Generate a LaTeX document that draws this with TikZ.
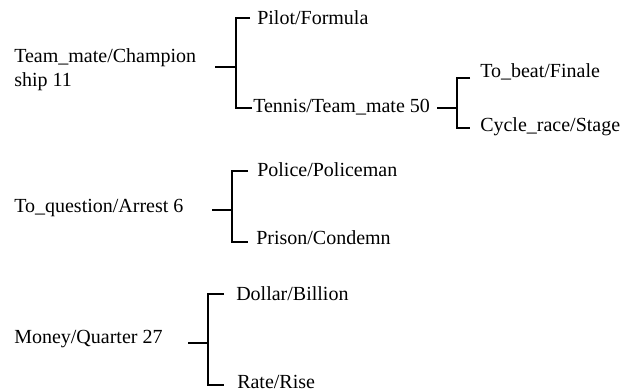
\documentclass[tikz,border=0pt]{standalone}
\usepackage{fontspec}
\setmainfont{Liberation Serif}
\begin{document}
\begin{tikzpicture}[x=0.75pt,y=-0.75pt,
  lbl/.style={anchor=base west,inner sep=0pt,font=\fontsize{15}{18}\selectfont},
  br/.style={line width=1.3pt,line cap=butt}]
\useasboundingbox (0,0) rectangle (632,392);
% group 1
\node[lbl,align=left] (a) at (14,87) {Team\_mate/Champion\\ship 11};
\node[lbl] (a1) at (257,25) {Pilot/Formula};
\node[lbl] (a2) at (253,113) {Tennis/Team\_mate 50};
\node[lbl] (b1) at (480,78) {To\_beat/Finale};
\node[lbl] (b2) at (480,132) {Cycle\_race/Stage};
\coordinate (a-out) at (215,67);
\coordinate (a-j) at (236,67);
\coordinate (a-t) at (236,18);
\coordinate (a-b) at (236,108);
\coordinate (a1-in) at (250,18);
\coordinate (a2-in) at (252,108);
\draw[br] (a-out) -- (a-j);
\draw[br] (a1-in) -- (a-t) -- (a-b) -- (a2-in);
\coordinate (b-out) at (437,108);
\coordinate (b-j) at (457,108);
\coordinate (b-t) at (457,78);
\coordinate (b-b) at (457,128);
\coordinate (b1-in) at (470,78);
\coordinate (b2-in) at (470,128);
\draw[br] (b-out) -- (b-j);
\draw[br] (b1-in) -- (b-t) -- (b-b) -- (b2-in);
% group 2
\node[lbl] (c) at (14,213) {To\_question/Arrest 6};
\node[lbl] (c1) at (257,177) {Police/Policeman};
\node[lbl] (c2) at (256,244) {Prison/Condemn};
\coordinate (c-out) at (212,210);
\coordinate (c-j) at (232,210);
\coordinate (c-t) at (232,171);
\coordinate (c-b) at (232,242);
\coordinate (c1-in) at (248,171);
\coordinate (c2-in) at (248,242);
\draw[br] (c-out) -- (c-j);
\draw[br] (c1-in) -- (c-t) -- (c-b) -- (c2-in);
% group 3
\node[lbl] (d) at (14,343) {Money/Quarter 27};
\node[lbl] (d1) at (236,300) {Dollar/Billion};
\node[lbl] (d2) at (237,388) {Rate/Rise};
\coordinate (d-out) at (188,343);
\coordinate (d-j) at (208,343);
\coordinate (d-t) at (208,294);
\coordinate (d-b) at (208,385);
\coordinate (d1-in) at (224,294);
\coordinate (d2-in) at (224,385);
\draw[br] (d-out) -- (d-j);
\draw[br] (d1-in) -- (d-t) -- (d-b) -- (d2-in);
\end{tikzpicture}
\end{document}
